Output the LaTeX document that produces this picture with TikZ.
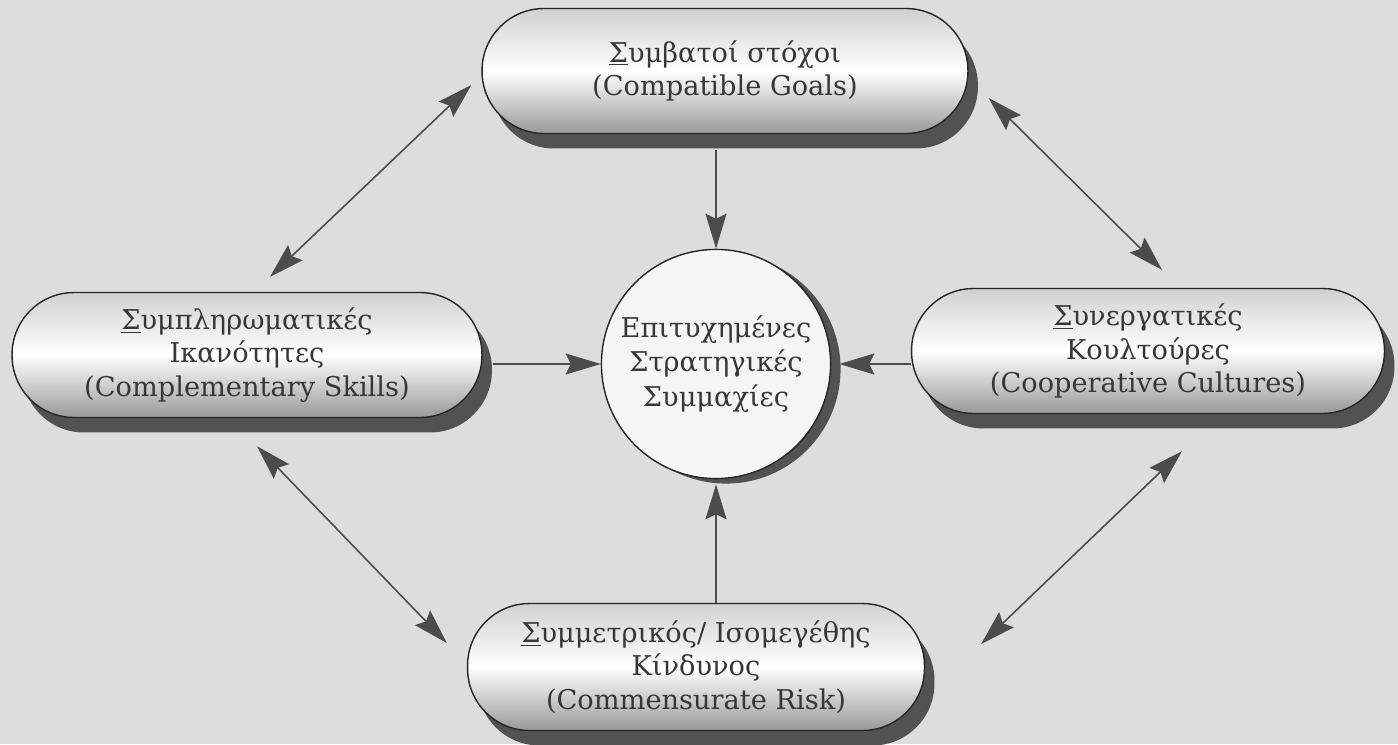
\documentclass[tikz,border=0pt]{standalone}
\usepackage{fontspec}
\setmainfont{DejaVu Serif}
\usetikzlibrary{shadows,arrows.meta,calc}
\definecolor{paper}{RGB}{221,221,221}
\definecolor{ink}{RGB}{55,55,55}

\begin{document}
\begin{tikzpicture}[x=0.02cm,y=-0.02cm,
		>={Stealth[length=0.7cm,width=0.42cm,inset=0.1cm]},
		pill/.style={draw=black!85,line width=0.8pt,rounded corners=1.24cm,minimum height=2.5cm,
			top color=black!18,bottom color=black!40,middle color=white,
			text=ink,align=center,font=\fontsize{15.5}{19}\selectfont,
			drop shadow={shadow xshift=0.2cm,shadow yshift=-0.3cm,fill=black!68,opacity=1}},
		hub/.style={circle,draw=black!85,line width=0.8pt,fill=white!96!black,minimum size=4.52cm,
			text=ink,align=center,font=\fontsize{15.5}{19.5}\selectfont,
			drop shadow={shadow xshift=0.2cm,shadow yshift=-0.1cm,fill=black!68,opacity=1}},
		link/.style={draw=black!70,fill=black!70,line width=0.9pt}]
				\path[use as bounding box,fill=paper] (0,0) rectangle (1398,744);
				\node[pill,minimum width=9.72cm] (goals) at (725,71) {\underline{Σ}υμβατοί στόχοι\\(Compatible Goals)};
				\node[pill,minimum width=9.4cm] (skills) at (247,355) {\underline{Σ}υμπληρωματικές\\Ικανότητες\\(Complementary Skills)};
				\node[pill,minimum width=9.46cm] (cultures) at (1148,351) {\underline{Σ}υνεργατικές\\Κουλτούρες\\(Cooperative Cultures)};
				\node[pill,minimum width=9.14cm,minimum height=2.54cm] (risk) at (696,667) {\underline{Σ}υμμετρικός/ Ισομεγέθης\\Κίνδυνος\\(Commensurate Risk)};
				\node[hub] (alliance) at (716,364) {Επιτυχημένες\\Στρατηγικές\\Συμμαχίες};
				\draw[link,->] ($(goals.south -| alliance.north)+(0,16)$) -- (alliance.north);
				\draw[link,->] ($(skills.east |- alliance.west)+(10,0)$) -- (alliance.west);
				\draw[link,->] (cultures.west |- alliance.east) -- ($(alliance.east)+(8,0)$);
				\draw[link,->] (risk.north -| alliance.south) -- ($(alliance.south)+(0,5)$);
				\draw[link,<->] ($(skills.north)+(23,-15)$) -- ($(goals.west)+(-10,14)$);
				\draw[link,<->] ($(goals.east)+(20,27)$) -- ($(cultures.north)+(14,-18)$);
				\draw[link,<->] ($(skills.south)+(10,28)$) -- ($(risk.west)+(-20,-24)$);
				\draw[link,<->] ($(risk.east)+(56,-23)$) -- ($(cultures.south)+(34,37)$);
			\end{tikzpicture}
\end{document}
